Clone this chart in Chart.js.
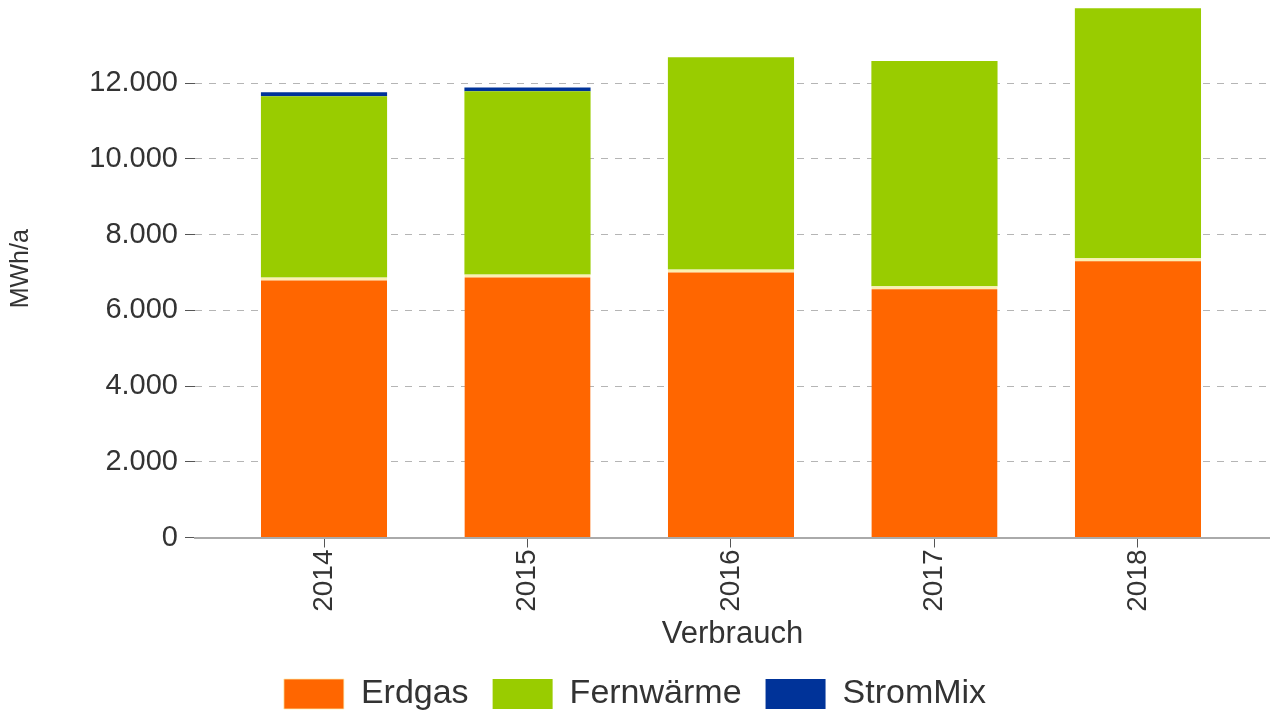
<!DOCTYPE html>
<html>
<head>
<meta charset="utf-8">
<script src="https://cdn.jsdelivr.net/npm/chart.js@4"></script>
<style>
  html, body { margin: 0; padding: 0; background: #fff; }
  #wrap { width: 1270px; height: 721px; position: relative; }
</style>
</head>
<body>
<div id="wrap"><canvas id="myChart"></canvas></div>
<script>
// data (MWh/a)
var years = ['2014', '2015', '2016', '2017', '2018'];
var erdgas = [6870, 6950, 7080, 6640, 7380];
var fernwaerme = [4790, 4840, 5610, 5950, 6600];
var stromMix = [100, 100, 0, 0, 0];
var yTicks = [0, 2000, 4000, 6000, 8000, 10000, 12000];

function deNum(v) {
  return String(v).replace(/\B(?=(\d{3})+(?!\d))/g, '.');
}
function pts(arr) {
  return arr.map(function (v, i) { return { x: i, y: v }; });
}

Chart.defaults.font.family = "'Liberation Sans', Arial, sans-serif";
Chart.defaults.color = '#333';

var ctx = document.getElementById('myChart').getContext('2d');
var myChart = new Chart(ctx, {
  type: 'bar',
  data: {
    datasets: [
      {
        label: 'Erdgas',
        data: pts(erdgas),
        backgroundColor: '#FF6600',
        borderColor: '#FCEFB0',
        borderWidth: { top: 3 },
        borderSkipped: false
      },
      {
        label: 'Fernwärme',
        data: pts(fernwaerme),
        backgroundColor: '#99CC00',
        borderWidth: 0
      },
      {
        label: 'StromMix',
        data: pts(stromMix),
        backgroundColor: '#003399',
        borderWidth: 0
      }
    ]
  },
  options: {
    responsive: true,
    maintainAspectRatio: false,
    animation: false,
    barPercentage: 0.62,
    categoryPercentage: 1,
    layout: { padding: { top: 0, right: 0, bottom: 0, left: 0 } },
    plugins: {
      tooltip: { enabled: false },
      legend: {
        position: 'bottom',
        labels: {
          boxWidth: 60,
          boxHeight: 30,
          padding: 24,
          color: '#333',
          font: { size: 34 }
        }
      }
    },
    scales: {
      x: {
        type: 'linear',
        stacked: true,
        offset: false,
        min: -0.634,
        max: 4.649,
        afterBuildTicks: function (scale) {
          scale.ticks = years.map(function (y, i) { return { value: i }; });
        },
        ticks: {
          minRotation: 90,
          maxRotation: 90,
          padding: 2,
          font: { size: 28 },
          color: '#333',
          callback: function (v) { return years[v]; }
        },
        grid: {
          offset: false,
          drawOnChartArea: false,
          tickLength: 10,
          tickColor: '#555',
          tickWidth: 1
        },
        border: { display: true, color: '#aaa', width: 2 },
        title: {
          display: true,
          text: 'Verbrauch',
          font: { size: 31 },
          color: '#333',
          padding: { top: 2, bottom: 0 }
        }
      },
      y: {
        stacked: true,
        min: 0,
        max: 14200,
        afterBuildTicks: function (scale) {
          scale.ticks = yTicks.map(function (v) { return { value: v }; });
        },
        afterFit: function (scale) {
          scale.width = 195;
          scale.paddingTop = 0;
        },
        ticks: {
          font: { size: 29 },
          color: '#333',
          padding: 7,
          callback: function (v) { return deNum(v); }
        },
        grid: {
          color: '#b5b5b5',
          lineWidth: 1,
          tickLength: 10,
          tickColor: '#555',
          tickBorderDash: []
        },
        border: { display: false, dash: [7, 7] },
        title: {
          display: true,
          text: 'MWh/a',
          font: { size: 25 },
          color: '#333',
          padding: { top: 6, bottom: 0 }
        }
      }
    }
  }
});
</script>
</body>
</html>
